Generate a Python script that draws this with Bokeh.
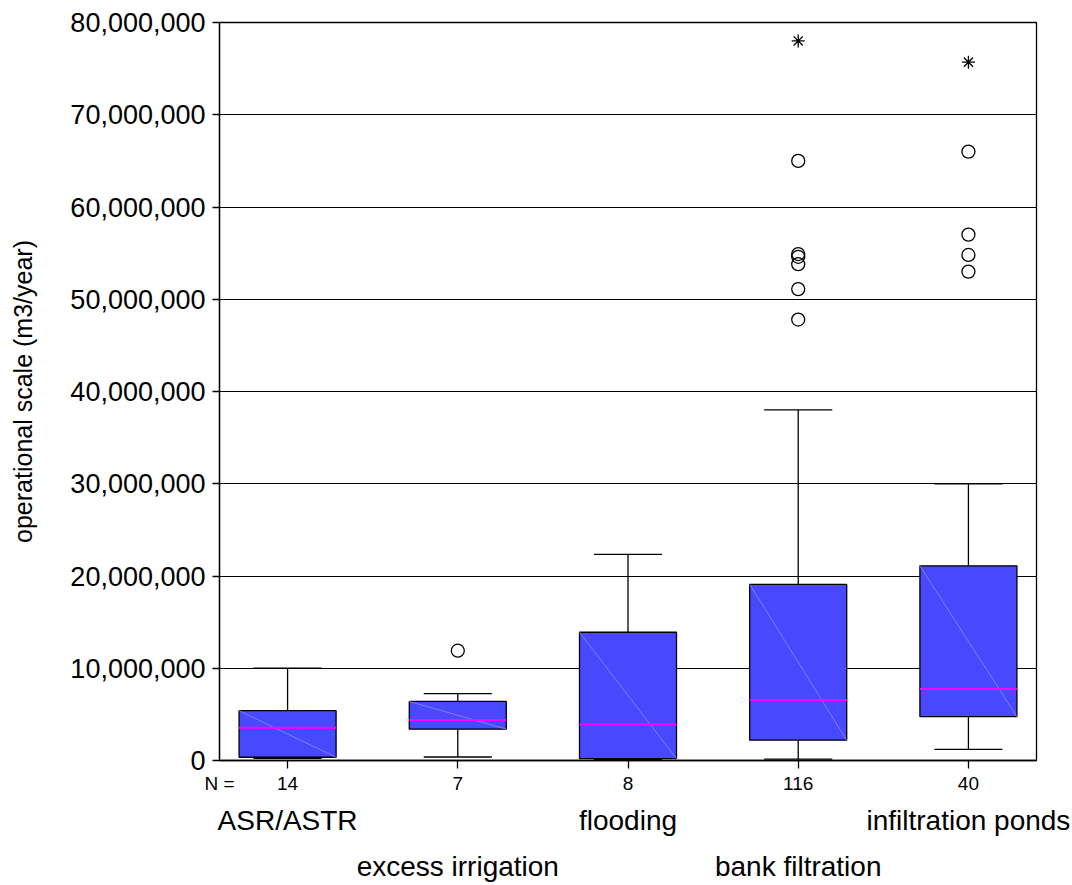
from bokeh.plotting import figure
from bokeh.models import Range1d, FixedTicker, NumeralTickFormatter, LinearAxis, ColumnDataSource
from bokeh.embed import file_html
from bokeh.resources import INLINE

categories = ["ASR/ASTR", "excess irrigation", "flooding", "bank filtration", "infiltration ponds"]
n_counts = [14, 7, 8, 116, 40]
lower_whisker = [0.24e6, 0.38e6, 0.1e6, 0.15e6, 1.2e6]
q1 = [0.35e6, 3.4e6, 0.2e6, 2.2e6, 4.75e6]
median = [3.55e6, 4.4e6, 3.9e6, 6.55e6, 7.75e6]
q3 = [5.4e6, 6.4e6, 13.9e6, 19.1e6, 21.1e6]
upper_whisker = [10.0e6, 7.25e6, 22.35e6, 38.0e6, 30.0e6]

outlier_cat = [1, 3, 3, 3, 3, 3, 3, 4, 4, 4, 4]
outlier_val = [11.9e6, 65.0e6, 54.9e6, 54.6e6, 53.8e6, 51.1e6, 47.8e6, 66.0e6, 57.0e6, 54.8e6, 53.0e6]
extreme_cat = [3, 4]
extreme_val = [78.0e6, 75.7e6]

y_ticks = [0, 10e6, 20e6, 30e6, 40e6, 50e6, 60e6, 70e6, 80e6]

FONT = "Liberation Sans"
BOX_W = 0.57
CAP_W = 0.4
X_MIN, X_MAX = -0.4, 4.4

xs = list(range(len(categories)))
src = ColumnDataSource(dict(
    x=xs,
    lo=lower_whisker, q1=q1, med=median, q3=q3, hi=upper_whisker,
    xl=[x - BOX_W / 2 for x in xs], xr=[x + BOX_W / 2 for x in xs],
    cl=[x - CAP_W / 2 for x in xs], cr=[x + CAP_W / 2 for x in xs],
))

p = figure(width=1072, height=885, output_backend="svg", toolbar_location=None,
           x_range=Range1d(X_MIN, X_MAX), y_range=Range1d(0, 80e6),
           x_axis_location=None,
           min_border_left=219, min_border_right=36, min_border_top=22, min_border_bottom=125)
p.background_fill_color = "white"
p.border_fill_color = "white"
p.outline_line_color = "black"
p.outline_line_width = 1.3

# grid
p.xgrid.visible = False
p.ygrid.ticker = FixedTicker(ticks=y_ticks)
p.ygrid.grid_line_color = "black"
p.ygrid.grid_line_width = 1

# whiskers
p.segment(x0="x", y0="q3", x1="x", y1="hi", source=src, line_color="black", line_width=1.3)
p.segment(x0="x", y0="lo", x1="x", y1="q1", source=src, line_color="black", line_width=1.3)
p.segment(x0="cl", y0="hi", x1="cr", y1="hi", source=src, line_color="black", line_width=1.3)
p.segment(x0="cl", y0="lo", x1="cr", y1="lo", source=src, line_color="black", line_width=1.3)

# boxes
p.quad(left="xl", right="xr", bottom="q1", top="q3", source=src,
       fill_color="#4848ff", line_color="black", line_width=1.3)
p.segment(x0="xl", y0="q3", x1="xr", y1="q1", source=src, line_color="#8e8eff", line_width=0.8)
p.segment(x0="xl", y0="med", x1="xr", y1="med", source=src, line_color="#ff00ff", line_width=2)

# outliers
p.scatter(x=outlier_cat, y=outlier_val, marker="circle", size=13, fill_color=None,
          line_color="black", line_width=1.3)
p.scatter(x=extreme_cat, y=extreme_val, marker="asterisk", size=13,
          line_color="black", line_width=1.3)

# y axis
ya = p.yaxis[0]
ya.ticker = FixedTicker(ticks=y_ticks)
ya.formatter = NumeralTickFormatter(format="0,0")
ya.major_label_text_font = FONT
ya.major_label_text_font_size = "27px"
ya.major_label_text_color = "black"
ya.major_label_standoff = 7
ya.major_tick_out = 7
ya.major_tick_in = 0
ya.minor_tick_out = 0
ya.minor_tick_in = 0
ya.major_tick_line_width = 1.3
ya.axis_line_width = 1.3
ya.axis_label = "operational scale (m3/year)"
ya.axis_label_text_font = FONT
ya.axis_label_text_font_size = "25px"
ya.axis_label_text_font_style = "normal"
ya.axis_label_text_color = "black"
ya.axis_label_standoff = 30

# bottom axis: tick marks (minor ticks at categories) and N counts ("N =" at left edge)
n_axis = LinearAxis(ticker=FixedTicker(ticks=[X_MIN] + xs, minor_ticks=xs))
n_labels = {X_MIN: "N ="}
n_labels.update({i: str(n) for i, n in enumerate(n_counts)})
n_axis.major_label_overrides = n_labels
n_axis.major_label_text_font = FONT
n_axis.major_label_text_font_size = "19px"
n_axis.major_label_text_color = "black"
n_axis.major_label_standoff = 4
n_axis.major_tick_out = 0
n_axis.major_tick_in = 0
n_axis.minor_tick_out = 8
n_axis.minor_tick_in = 0
n_axis.minor_tick_line_width = 1.3
n_axis.minor_tick_line_color = "black"
n_axis.axis_line_width = 1.3
p.add_layout(n_axis, "below")

# staggered category label rows
row1 = [i for i in xs if i % 2 == 0]
row2 = [i for i in xs if i % 2 == 1]
for row, standoff in ((row1, 2), (row2, 6)):
    ax = LinearAxis(ticker=FixedTicker(ticks=row))
    ax.major_label_overrides = {i: categories[i] for i in row}
    ax.major_label_text_font = FONT
    ax.major_label_text_font_size = "28px"
    ax.major_label_text_color = "black"
    ax.major_label_standoff = standoff
    ax.axis_line_color = None
    ax.major_tick_line_color = None
    ax.minor_tick_line_color = None
    p.add_layout(ax, "below")

open("out.html", "w").write(file_html(p, INLINE))
